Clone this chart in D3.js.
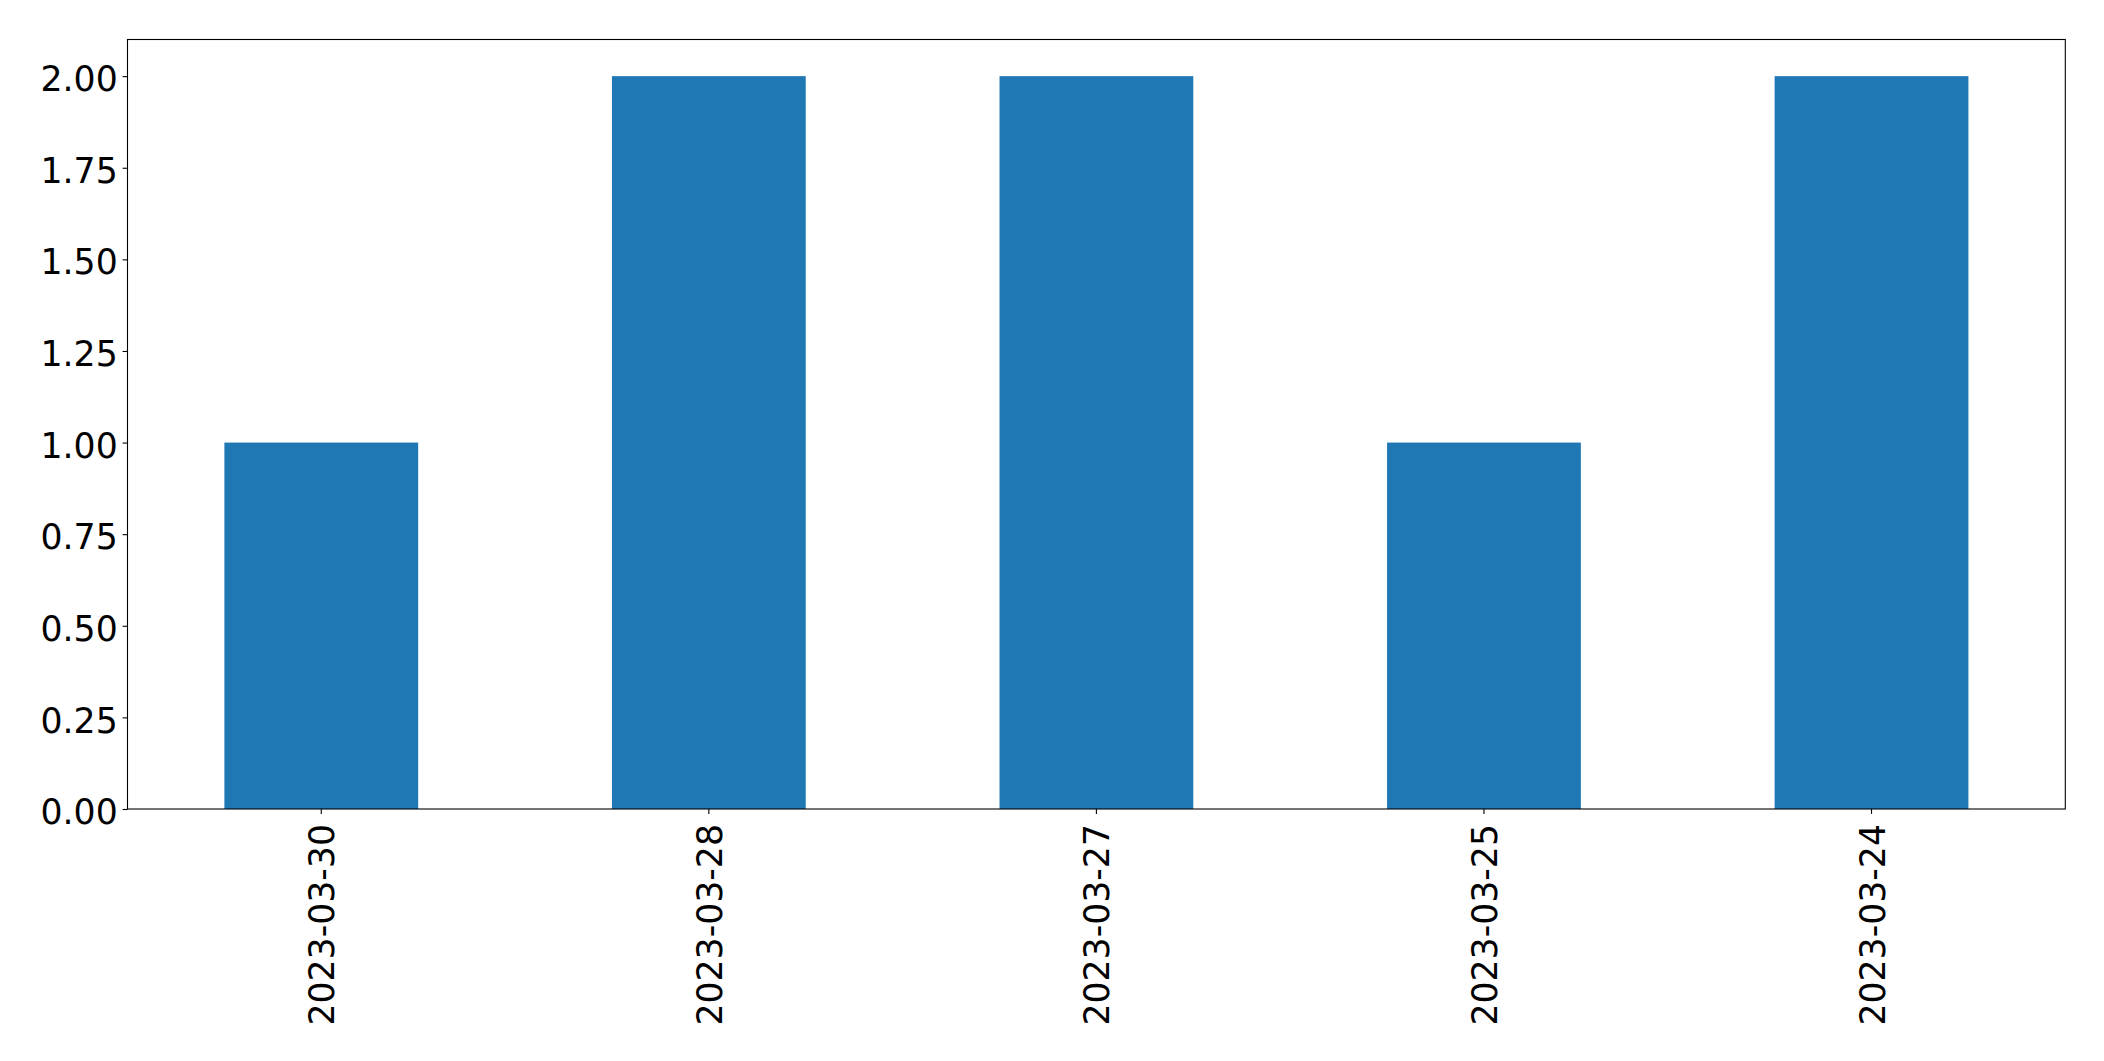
<!DOCTYPE html>
<html>
<head>
<meta charset="utf-8">
<script src="https://cdn.jsdelivr.net/npm/d3@7"></script>
<style>
  html, body { margin: 0; padding: 0; background: #fff; }
  svg { display: block; }
</style>
</head>
<body>
<script>
const categories = ["2023-03-30", "2023-03-28", "2023-03-27", "2023-03-25", "2023-03-24"];
const values = [1, 2, 2, 1, 2];
const yTicks = [0, 0.25, 0.5, 0.75, 1.0, 1.25, 1.5, 1.75, 2.0];

const W = 2104, H = 1061;
const mLeft = 127.5, mRight = 2065.3, mTop = 39.5, mBottom = 809;
const fontSize = 34.7;
const tickLen = 4.9;

const svg = d3.select("body").append("svg").attr("width", W).attr("height", H);

const x = d3.scaleBand().domain(categories).range([mLeft, mRight]).paddingInner(0.5).paddingOuter(0.25);
const y = d3.scaleLinear().domain([0, 2.1]).range([mBottom, mTop]);

svg.append("g").selectAll("rect").data(values).join("rect")
  .attr("x", (d, i) => x(categories[i]))
  .attr("width", x.bandwidth())
  .attr("y", d => y(d))
  .attr("height", d => y(0) - y(d))
  .attr("fill", "#1f77b4");

// frame
svg.append("rect").attr("x", mLeft).attr("y", mTop).attr("width", mRight - mLeft).attr("height", mBottom - mTop)
  .attr("fill", "none").attr("stroke", "#000").attr("stroke-width", 1.1);

// y axis
const yAxis = d3.axisLeft(y).tickValues(yTicks).tickFormat(d3.format(".2f")).tickSize(tickLen).tickPadding(4.9);
const gy = svg.append("g").attr("transform", `translate(${mLeft},0)`).call(yAxis);
gy.select(".domain").remove();
gy.selectAll(".tick line").attr("stroke", "#000").attr("stroke-width", 1.1);
gy.selectAll(".tick text")
  .attr("font-family", "DejaVu Sans").attr("font-size", fontSize).attr("fill", "#000")
  .attr("dy", null).attr("dominant-baseline", "alphabetic").attr("y", 14.6);

// x axis
const xAxis = d3.axisBottom(x).tickSize(tickLen).tickPadding(0);
const gx = svg.append("g").attr("transform", `translate(0,${mBottom})`).call(xAxis);
gx.select(".domain").remove();
gx.selectAll(".tick line").attr("stroke", "#000").attr("stroke-width", 1.1);
gx.selectAll(".tick text")
  .attr("font-family", "DejaVu Sans").attr("font-size", fontSize).attr("fill", "#000")
  .attr("text-anchor", "end")
  .attr("transform", "rotate(-90)")
  .attr("x", -15)
  .attr("y", 13)
  .attr("dy", null)
  .attr("dominant-baseline", "alphabetic");
</script>
</body>
</html>
